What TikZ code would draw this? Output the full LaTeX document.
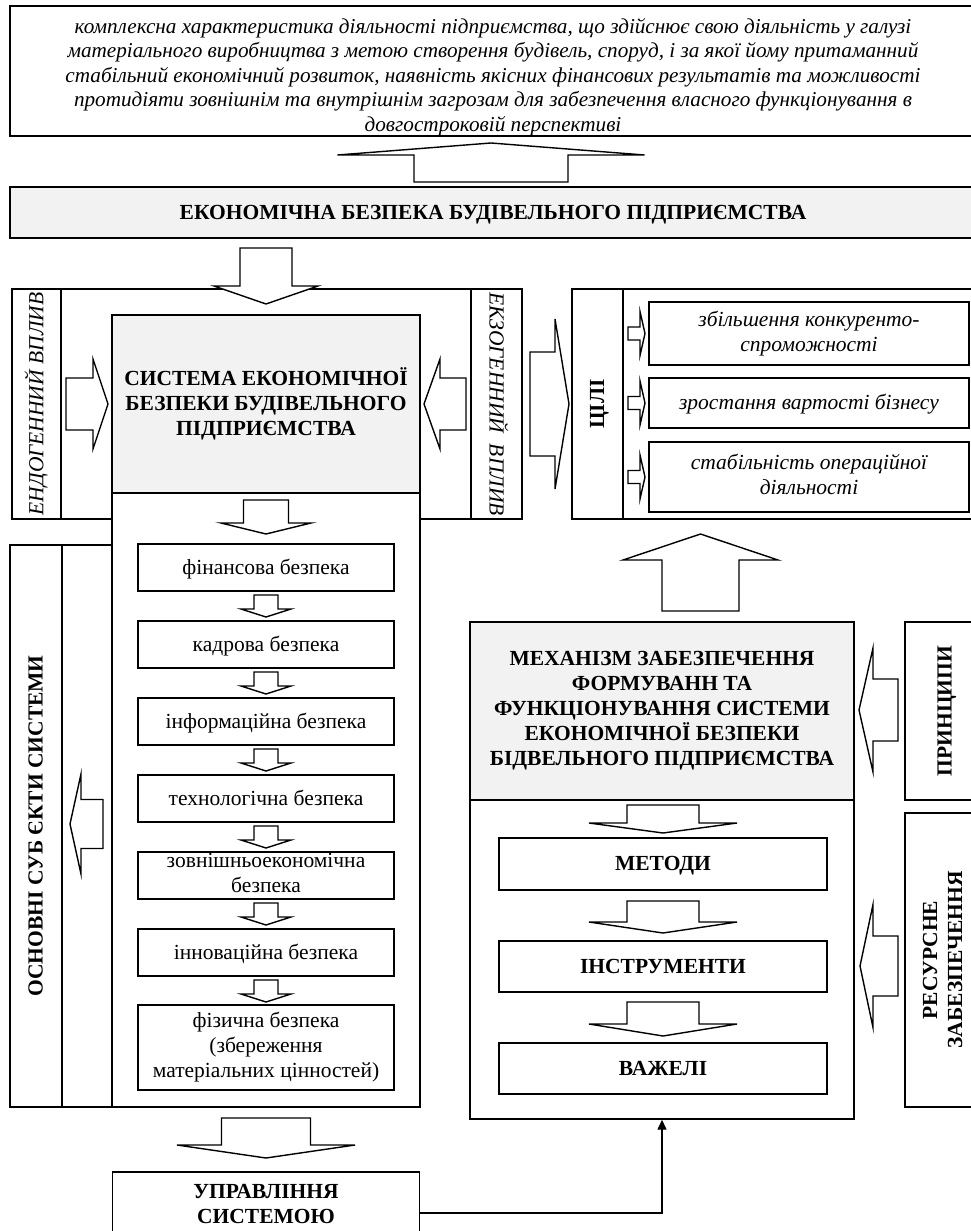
\documentclass[tikz,border=0pt]{standalone}
\usepackage{fontspec}
\setmainfont{Liberation Serif}
\usetikzlibrary{positioning,arrows.meta,calc}

\newcommand{\dfont}{\fontsize{21.5}{25}\selectfont}
\newcommand{\ws}{\rule[-5pt]{0pt}{23pt}}

\tikzset{
    every node/.style={align=center, font=\dfont, inner sep=0pt,
        execute at begin node=\ws, execute at end node=\ws},
    box/.style={draw, line width=1.4pt, fill=white},
    graybox/.style={box, fill=gray!10},
    pics/barrow/.style args={#1/#2/#3/#4}{code={
        \draw[line width=1.4pt, fill=white] (0,-#1) -- (#3,-#1) -- (#3,-#2)
            -- (#4,0) -- (#3,#2) -- (#3,#1) -- (0,#1) -- cycle;
    }},
}

\begin{document}
\begin{tikzpicture}[x=1pt, y=-1pt]
    \useasboundingbox (0,0) rectangle (971,1231);
    \clip (0,0) rectangle (971,1231);

    % top
    \node[box, minimum width=966pt, minimum height=128pt, font=\fontsize{21.2}{24.5}\selectfont\itshape] (def) at (493,71) {\rule{0pt}{27pt}комплексна характеристика діяльності підприємства, що здійснює свою діяльність у галузі\\матеріального виробництва з метою створення будівель, споруд, і за якої йому притаманний\\стабільний економічний розвиток, наявність якісних фінансових результатів та можливості\\протидіяти зовнішнім та внутрішнім загрозам для забезпечення власного функціонування в\\довгостроковій перспективі};
    \node[graybox, minimum width=966pt, minimum height=51pt, font=\dfont\bfseries] (ebp) at (493,212.5) {ЕКОНОМІЧНА БЕЗПЕКА БУДІВЕЛЬНОГО ПІДПРИЄМСТВА};

    % left block
    \node[box, minimum width=510pt, minimum height=230pt] (frame) at (267,404) {};
    \node[box, rotate=90, minimum width=230pt, minimum height=49pt, font=\dfont\itshape] (endo) at (36.5,404) {ЕНДОГЕННИЙ ВПЛИВ};
    \node[box, rotate=-90, minimum width=230pt, minimum height=51pt, font=\dfont\itshape] (exo) at (496.5,404) {ЕКЗОГЕННИЙ \ ВПЛИВ};
    \node[box, minimum width=102pt, minimum height=562pt] (subjframe) at (61,826) {};
    \node[box, rotate=90, minimum width=562pt, minimum height=52pt, font=\dfont\bfseries] (subj) at (36,826) {ОСНОВНІ СУБ ЄКТИ СИСТЕМИ};
    \node[box, minimum width=308pt, minimum height=614pt] (syspanel) at (266,800) {};
    \node[graybox, minimum width=308pt, minimum height=178pt, font=\dfont\bfseries] (sys) at (266,404) {СИСТЕМА ЕКОНОМІЧНОЇ\\БЕЗПЕКИ БУДІВЕЛЬНОГО\\ПІДПРИЄМСТВА};

    \node[box, minimum width=256pt, minimum height=47pt] (s1) at (266,567.5) {фінансова безпека};
    \node[box, minimum width=256pt, minimum height=47pt] (s2) at (266,644.5) {кадрова безпека};
    \node[box, minimum width=256pt, minimum height=47pt] (s3) at (266,721.5) {інформаційна безпека};
    \node[box, minimum width=256pt, minimum height=47pt] (s4) at (266,798.5) {технологічна безпека};
    \node[box, minimum width=256pt, minimum height=47pt] (s5) at (266,875.5) {зовнішньоекономічна\\безпека};
    \node[box, minimum width=256pt, minimum height=47pt] (s6) at (266,952.5) {інноваційна безпека};
    \node[box, minimum width=256pt, minimum height=85pt] (s7) at (266,1047.5) {фізична безпека\\(збереження\\матеріальних цінностей)};

    \node[box, minimum width=307pt, minimum height=68pt, font=\dfont\bfseries] (ctrl) at (266,1206) {УПРАВЛІННЯ\\СИСТЕМОЮ};

    % right block
    \node[box, minimum width=413pt, minimum height=230pt] (goalframe) at (778.5,404) {};
    \node[box, rotate=90, minimum width=230pt, minimum height=51pt, font=\dfont\bfseries] (goals) at (597.5,404) {ЦІЛІ};
    \node[box, minimum width=320pt, minimum height=63pt, font=\dfont\itshape] (g1) at (809,333.5) {збільшення конкуренто-\\спроможності};
    \node[box, minimum width=320pt, minimum height=50pt, font=\dfont\itshape] (g2) at (809,403) {зростання вартості бізнесу};
    \node[box, minimum width=320pt, minimum height=70pt, font=\dfont\itshape] (g3) at (809,477) {стабільність операційної\\діяльності};

    \node[box, minimum width=384pt, minimum height=319pt] (mechpanel) at (662,959.5) {};
    \node[graybox, minimum width=384pt, minimum height=178pt, font=\dfont\bfseries] (mech) at (662,711) {МЕХАНІЗМ ЗАБЕЗПЕЧЕННЯ\\ФОРМУВАНН ТА\\ФУНКЦІОНУВАННЯ СИСТЕМИ\\ЕКОНОМІЧНОЇ БЕЗПЕКИ\\БІДВЕЛЬНОГО ПІДПРИЄМСТВА};
    \node[box, minimum width=328pt, minimum height=52pt, font=\dfont\bfseries] (m1) at (663,864) {МЕТОДИ};
    \node[box, minimum width=328pt, minimum height=51pt, font=\dfont\bfseries] (m2) at (663,966.5) {ІНСТРУМЕНТИ};
    \node[box, minimum width=328pt, minimum height=51pt, font=\dfont\bfseries] (m3) at (663,1068.5) {ВАЖЕЛІ};

    \node[box, rotate=90, minimum width=178pt, minimum height=80pt, font=\dfont\bfseries] (princ) at (945,711) {ПРИНЦИПИ};
    \node[box, rotate=90, minimum width=294pt, minimum height=80pt, font=\dfont\bfseries] (res) at (945,960) {РЕСУРСНЕ\\ЗАБЕЗПЕЧЕННЯ};

    % block arrows
    \pic[rotate=90] at (491,182) {barrow={77/153.5/27/39}};
    \pic[rotate=-90] at (266,248) {barrow={26/52/38/56}};
    \pic at (66,404) {barrow={26/45/27/42}};
    \pic[rotate=180] at (466,404) {barrow={26/45/26/42}};
    \pic at (530,404) {barrow={52/85/25/39}};
    \pic at (628,333.5) {barrow={6.5/22/12/17}};
    \pic at (628,403) {barrow={6.5/22/12/17}};
    \pic at (628,477) {barrow={6.5/22/12/17}};
    \pic[rotate=-90] at (266,500) {barrow={22.5/45/23/34}};
    \pic[rotate=-90] at (266,595) {barrow={12/25/14/22}};
    \pic[rotate=-90] at (266,672) {barrow={12/25/14/22}};
    \pic[rotate=-90] at (266,749) {barrow={12/25/14/22}};
    \pic[rotate=-90] at (266,826) {barrow={12/25/14/22}};
    \pic[rotate=-90] at (266,903) {barrow={12/25/14/22}};
    \pic[rotate=-90] at (266,980) {barrow={12/25/14/22}};
    \pic[rotate=180] at (103,824) {barrow={24.5/50/22/33}};
    \pic[rotate=-90] at (266,1118) {barrow={44.5/89/27/40}};
    \pic[rotate=90] at (700.5,611) {barrow={38.5/77.5/51/77}};
    \pic[rotate=180] at (898,710) {barrow={31/62/25/39}};
    \pic[rotate=180] at (898,966) {barrow={30/61.5/25/38}};
    \pic[rotate=-90] at (663,805) {barrow={36/74/18/28}};
    \pic[rotate=-90] at (663,901) {barrow={36/74/21/32}};
    \pic[rotate=-90] at (663,1002) {barrow={36/74/22/34}};

    \draw[line width=1.4pt, -{Triangle[length=10pt, width=9pt]}] ([yshift=-7pt]ctrl.east) -| (mechpanel.south);
\end{tikzpicture}
\end{document}
